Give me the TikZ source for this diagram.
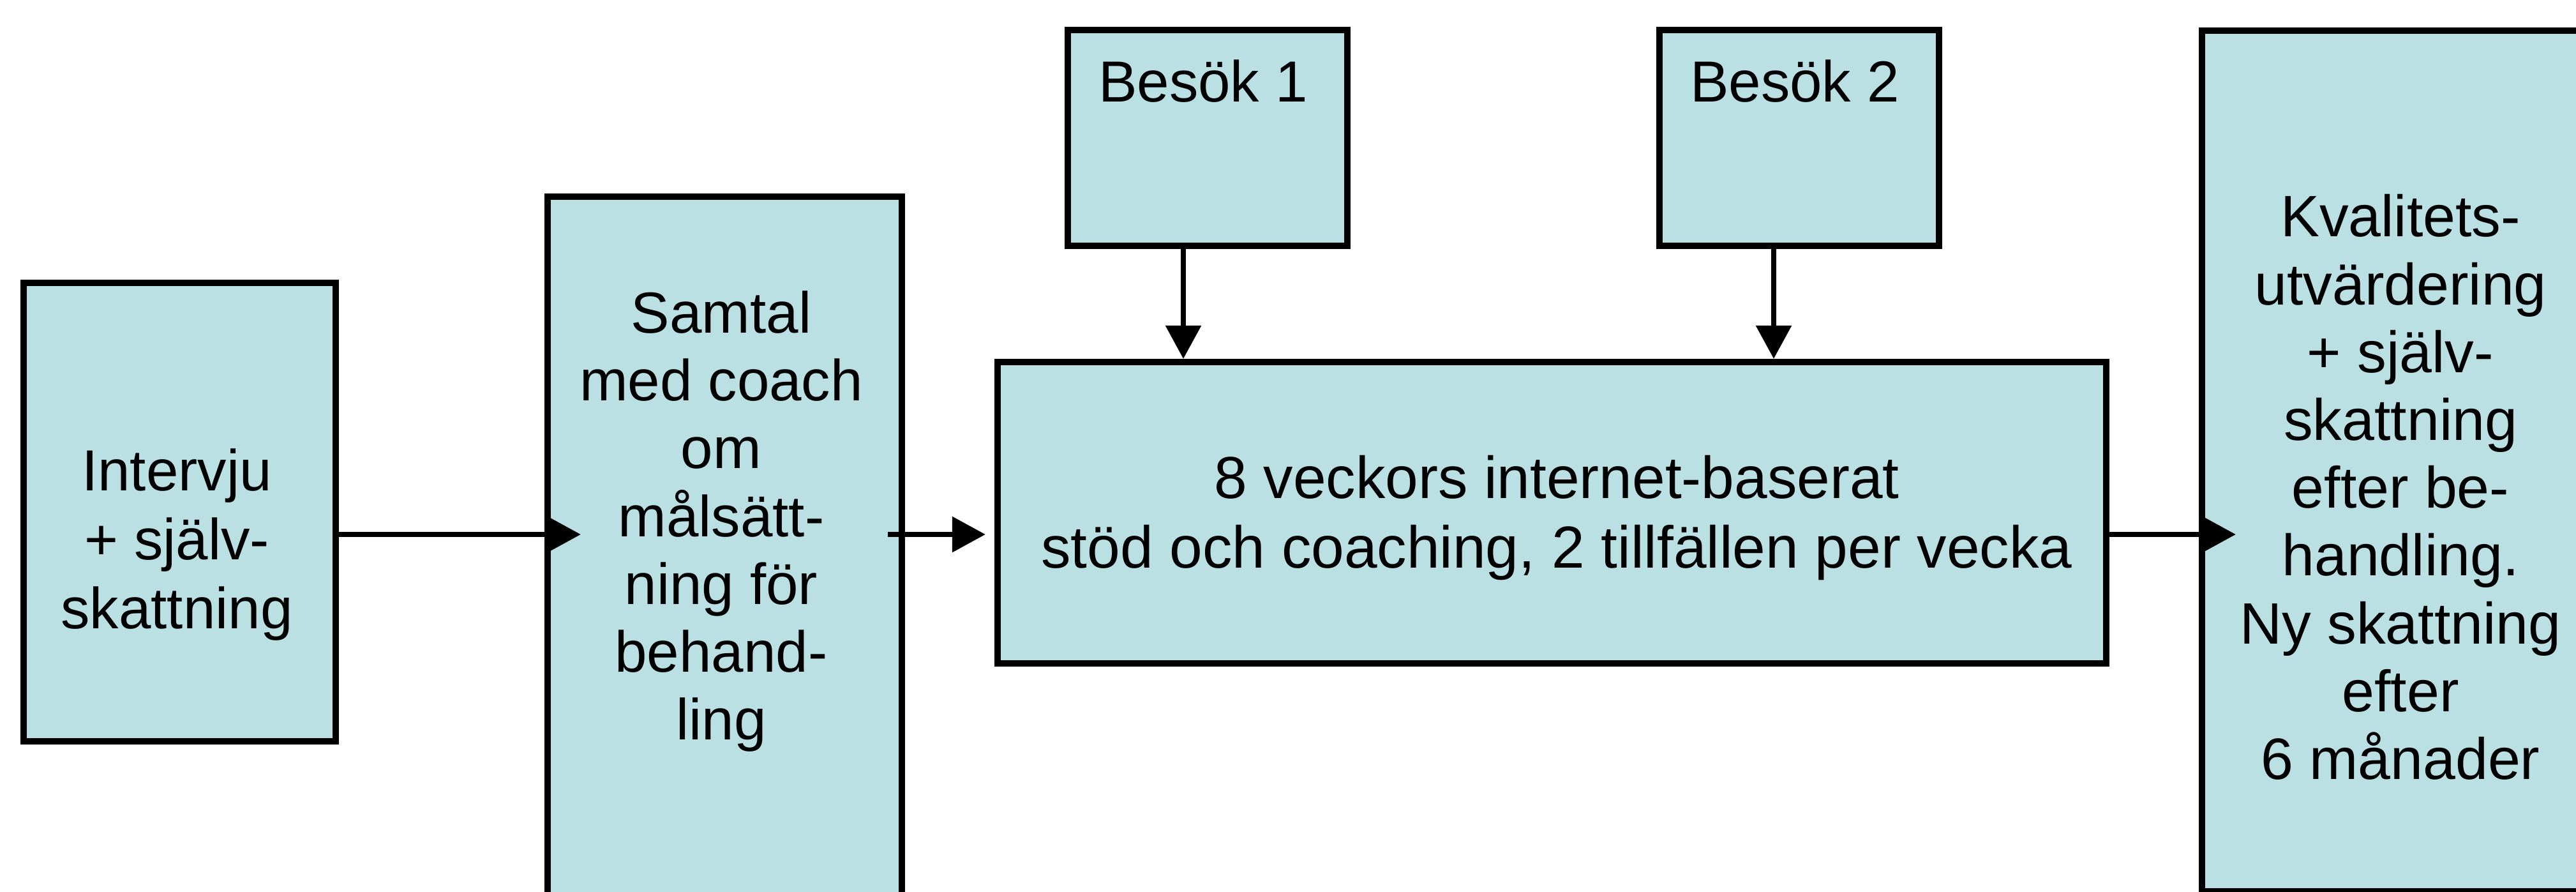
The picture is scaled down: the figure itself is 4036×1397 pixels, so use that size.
\documentclass[tikz,border=0pt]{standalone}
\usepackage{fontspec}
\setmainfont{Liberation Sans}
\usetikzlibrary{arrows.meta,calc}
\definecolor{boxfill}{RGB}{187,224,227}
\begin{document}
\begin{tikzpicture}[x=0.01cm,y=-0.01cm,
  box/.style={draw=black,fill=boxfill,line width=2.85pt,rectangle,inner sep=0pt,anchor=north west},
  lbl/.style={inner sep=0pt,anchor=north,align=center},
  arr/.style={line width=2.5pt,-{Triangle[length=5.2mm,width=5.4mm]}},
  fa/.style={font={\fontsize{25.8pt}{30.7pt}\selectfont}},
  fb/.style={font={\fontsize{25.8pt}{30.2pt}\selectfont}},
  fc/.style={font={\fontsize{26.4pt}{30.8pt}\selectfont}},
  fd/.style={font={\fontsize{26pt}{30.2pt}\selectfont}}
]
\useasboundingbox (0,0) rectangle (4036,1397);
\clip (0,0) rectangle (4036,1397);
\fill[white] (0,0) rectangle (4036,1397);
% boxes
\node[box,minimum width=4.89cm,minimum height=7.18cm] (b1) at (32,438) {};
\node[box,minimum width=5.55cm,minimum height=11.17cm] (b2) at (853,303) {};
\node[box,minimum width=4.38cm,minimum height=3.38cm] (b3) at (1668,42) {};
\node[box,minimum width=4.38cm,minimum height=3.38cm] (b4) at (2595,42) {};
\node[box,minimum width=17.36cm,minimum height=4.72cm] (b5) at (1558,562) {};
\node[box,minimum width=6.32cm,minimum height=13.47cm] (b6) at (3445,43) {};
% texts
\node[lbl,fa] (t1) at (277,702) {Intervju\\+ själv-\\skattning};
\node[lbl,fb] (t2) at (1130,455) {Samtal\\med coach\\om\\målsätt-\\ning för\\behand-\\ling};
\node[lbl,fa] (t3) at (1885,93) {Besök 1};
\node[lbl,fa] (t4) at (2812,93) {Besök 2};
\node[lbl,fc] (t5) at (2439,713) {8 veckors internet-baserat\\stöd och coaching, 2 tillfällen per vecka};
\node[lbl,fd] (t6) at (3761,304) {Kvalitets-\\utvärdering\\+ själv-\\skattning\\efter be-\\handling.\\Ny skattning\\efter\\6 månader};
% connectors
\coordinate (ay) at (0,837);
\draw[arr] (b1.east |- ay) -- ($(b2.west |- ay)+(57,0)$);
\draw[arr] ($(b2.east |- ay)+(-27,0)$) -- ($(b5.west |- ay)+(-14,0)$);
\draw[arr] (b5.east |- ay) -- ($(b6.west |- ay)+(58,0)$);
\coordinate (d1) at ($(b3.south west)+(186,0)$);
\coordinate (d2) at ($(b4.south west)+(184,0)$);
\draw[arr] (d1) -- (d1 |- b5.north);
\draw[arr] (d2) -- (d2 |- b5.north);
\end{tikzpicture}
\end{document}
